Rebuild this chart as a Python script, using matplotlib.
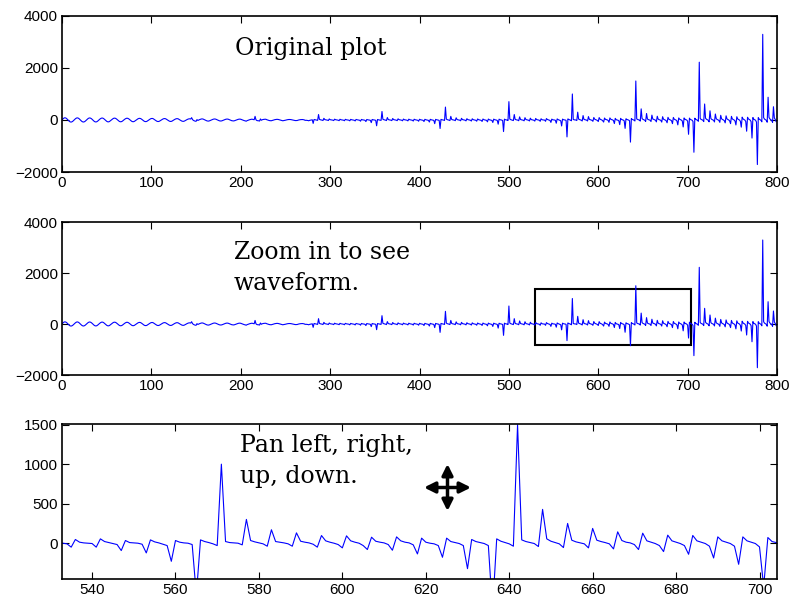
import numpy as np
import matplotlib.pyplot as plt
from matplotlib.patches import Rectangle

# samples 0-139: slow ripple at the start
wave_000 = [
    0, 40, 70, 85, 80, 60, 25, -10, -45, -70, -80, -72, -50, -20,
    15, 48, 72, 82, 75, 52, 20, -15, -48, -70, -78, -68, -45, -12,
    20, 50, 72, 80, 70, 48, 15, -20, -50, -70, -75, -65, -40, -8,
    22, 50, 70, 76, 66, 42, 10, -22, -50, -68, -72, -60, -35, -5,
    25, 50, 68, 72, 62, 38, 8, -24, -50, -66, -68, -56, -32, -2,
    25, 48, 65, 68, 58, 35, 5, -25, -50, -64, -65, -52, -28, 0,
    25, 46, 60, 64, 54, 32, 4, -25, -48, -60, -62, -50, -26, 0,
    24, 44, 57, 60, 50, 28, 2, -24, -45, -57, -58, -46, -24, 0,
    22, 40, 52, 55, 46, 26, 2, -22, -42, -54, -55, -44, -22, 0,
    20, 38, 50, 52, 44, 24, 0, -22, -40, -50, -52, -40, -20, 0,
]
# samples 140-286
wave_140 = [
    18, 34, 44, 46, 38, 90, 18, -14, -32, -44, -50, 15, -18, 0,
    16, 30, 40, 42, 34, 18, 0, -18, -32, -40, -42, -32, -16, 0,
    15, 28, 37, 39, 32, 17, 0, -16, -30, -37, -38, -30, -15, 0,
    14, 26, 34, 36, 30, 16, 0, -15, -28, -34, -36, -28, -14, 0,
    13, 24, 32, 34, 28, 15, 0, -14, -26, -32, -48, -26, -12, 0,
    12, 22, 30, 28, 18, 10, 140, 8, -20, -28, -30, -40, 40, -10,
    10, 20, 26, 28, 30, 12, 0, -12, -22, -26, -30, -22, -10, 2,
    12, 20, 24, 25, 20, 10, 0, -10, -20, -30, -24, -18, -8, 2,
    10, 16, 20, 20, 16, 8, 0, -10, -18, -22, -22, -20, -8, 2,
    10, 14, 18, 18, 14, 6, -15, -8, -16, -18, -30, -14, -6, 2,
    8, -130, 20, 12, 6, -4, -14,
]
# pulse periods, 71 samples each
pulse_287 = [
    210, 25, 10, 2, -6, -20, 65, 15, 6, 0, -6, -20,
    40, 12, 5, 0, -6, -22, 32, 12, 5, 0, -8, -25,
    28, 10, 4, -2, -8, -28, 26, 10, 4, -2, -8, -32,
    24, 10, 4, -2, -10, -36, 22, 10, 3, -2, -10, -45,
    22, 8, 3, -3, -12, -60, 20, 8, 3, -3, -12, -100,
    20, 8, 3, -3, -14, -222, 20, 8, 2, -4, -14,
]
pulse_358 = [
    327, 30, 12, 3, -6, -22, 95, 18, 7, 1, -6, -24,
    58, 15, 6, 0, -7, -26, 45, 14, 5, 0, -8, -30,
    36, 12, 5, -1, -9, -34, 32, 12, 4, -2, -10, -40,
    30, 11, 4, -2, -11, -46, 28, 10, 4, -3, -12, -58,
    27, 10, 3, -3, -14, -78, 26, 10, 3, -3, -15, -140,
    24, 10, 3, -4, -16, -327, 24, 10, 3, -4, -18,
]
pulse_429 = [
    497, 35, 14, 4, -6, -22, 140, 22, 8, 2, -6, -26,
    85, 18, 7, 1, -7, -30, 65, 16, 6, 0, -8, -34,
    50, 15, 5, -1, -10, -40, 46, 14, 5, -2, -12, -46,
    40, 13, 5, -2, -13, -55, 38, 12, 4, -3, -14, -70,
    36, 12, 4, -3, -16, -95, 34, 12, 4, -4, -18, -160,
    32, 12, 4, -4, -20, -444, 32, 12, 4, -4, -20,
]
pulse_500 = [
    706, 38, 15, 4, -6, -22, 210, 25, 10, 2, -6, -28,
    120, 20, 8, 1, -8, -32, 90, 18, 7, 0, -9, -36,
    70, 16, 6, -1, -10, -42, 60, 16, 6, 0, -8, -50,
    47, 13, 4, 0, -4, -50, 55, 21, 8, -4, -17, -93,
    34, 8, 4, 0, -13, -123, 42, 17, 4, -13, -30, -229,
    34, 13, 4, 0, -17, -650, 42, 21, 8, -8, -30,
]
pulse_571 = [
    1000, 21, 8, 4, 0, -21, 301, 34, 17, 4, -8, -38,
    170, 21, 13, 4, -8, -38, 131, 25, 13, 4, -13, -50,
    97, 30, 13, 0, -17, -59, 93, 30, 13, 0, -30, -80,
    76, 25, 13, 4, -17, -89, 80, 30, 13, 4, -21, -136,
    64, 13, 0, -8, -30, -178, 64, 21, 8, -4, -30, -322,
    47, 21, 8, -4, -30, -850, 55, 25, 8, -8, -38,
]
pulse_642 = [
    1500, 42, 21, 8, -4, -42, 428, 55, 25, 8, -8, -55,
    250, 38, 17, 4, -8, -59, 187, 38, 21, 8, -8, -72,
    144, 34, 13, 4, -17, -80, 127, 30, 13, -4, -30, -106,
    102, 30, 13, -4, -30, -140, 98, 30, 13, -4, -38, -187,
    80, 30, 13, -4, -38, -267, 80, 30, 13, -4, -47, -550,
    72, 21, 8, -8, -60, -1240, 70, 25, 8, -10, -50,
]
pulse_713 = [
    2223, 60, 25, 8, -8, -60, 615, 70, 30, 10, -10, -70,
    353, 55, 22, 6, -10, -75, 230, 50, 20, 5, -20, -90,
    180, 45, 18, 2, -25, -110, 160, 42, 18, 0, -35, -140,
    140, 42, 18, 0, -40, -190, 125, 40, 18, -2, -50, -275,
    110, 40, 18, -4, -55, -431, 105, 40, 16, -4, -65, -694,
    95, 30, 10, -10, -80, -1713, 90, 35, 12, -12, -70,
]
pulse_784 = [3294, 90, 35, 12, -12, -85, 875, 100, 40, 15, -15, -90, 510, 80, 20, -60]

signal = np.array(wave_000 + wave_140 + pulse_287 + pulse_358 + pulse_429
                  + pulse_500 + pulse_571 + pulse_642 + pulse_713 + pulse_784)
n = np.arange(len(signal))

full_xticks = [0, 100, 200, 300, 400, 500, 600, 700, 800]
full_yticks = [-2000, 0, 2000, 4000]
zoom_xticks = [540, 560, 580, 600, 620, 640, 660, 680, 700]
zoom_yticks = [0, 500, 1000, 1500]
zoom_box = (529, -820, 175, 2190)  # x, y, width, height

plt.rcParams['font.family'] = 'Liberation Sans'
fig = plt.figure(figsize=(7.92, 6.01), dpi=100)

def style(ax):
    ax.tick_params(direction='in', top=True, right=True, length=5, width=0.8,
                   labelsize=11, pad=3)
    for s in ax.spines.values():
        s.set_linewidth(1.2)

serif = dict(family='DejaVu Serif', fontsize=17, va='center', linespacing=1.45)

ax1 = fig.add_axes([0.0783, 0.7138, 0.9028, 0.2596])
ax1.plot(n, signal, color='blue', lw=0.8)
ax1.set_xlim(0, 800)
ax1.set_ylim(-2000, 4000)
ax1.set_xticks(full_xticks)
ax1.set_yticks(full_yticks)
style(ax1)
ax1.text(0.242, 0.79, 'Original plot', transform=ax1.transAxes, **serif)

ax2 = fig.add_axes([0.0783, 0.3760, 0.9028, 0.2546])
ax2.plot(n, signal, color='blue', lw=0.8)
ax2.set_xlim(0, 800)
ax2.set_ylim(-2000, 4000)
ax2.set_xticks(full_xticks)
ax2.set_yticks(full_yticks)
style(ax2)
ax2.add_patch(Rectangle(zoom_box[:2], zoom_box[2], zoom_box[3],
                        fill=False, ec='black', lw=1.5))
ax2.text(0.2406, 0.70, 'Zoom in to see\nwaveform.', transform=ax2.transAxes, **serif)

ax3 = fig.add_axes([0.0783, 0.0366, 0.9028, 0.2580])
ax3.plot(n, signal, color='blue', lw=0.8)
ax3.set_xlim(532.8, 704.2)
ax3.set_ylim(-453, 1509)
ax3.set_xticks(zoom_xticks)
ax3.set_yticks(zoom_yticks)
style(ax3)
ax3.text(0.249, 0.761, 'Pan left, right,\nup, down.', transform=ax3.transAxes, **serif)

# pan cursor icon
icon = fig.add_axes([424 / 792, 1 - 511 / 601, 47 / 792, 47 / 601])
icon.set_xlim(-1, 1)
icon.set_ylim(-1, 1)
icon.axis('off')
ap = dict(arrowstyle='<|-|>', color='black', lw=2.5, mutation_scale=16,
          shrinkA=0, shrinkB=0)
icon.annotate('', xy=(-1, 0), xytext=(1, 0), arrowprops=ap)
icon.annotate('', xy=(0, -1), xytext=(0, 1), arrowprops=ap)

fig.savefig('out.png', dpi=100)
